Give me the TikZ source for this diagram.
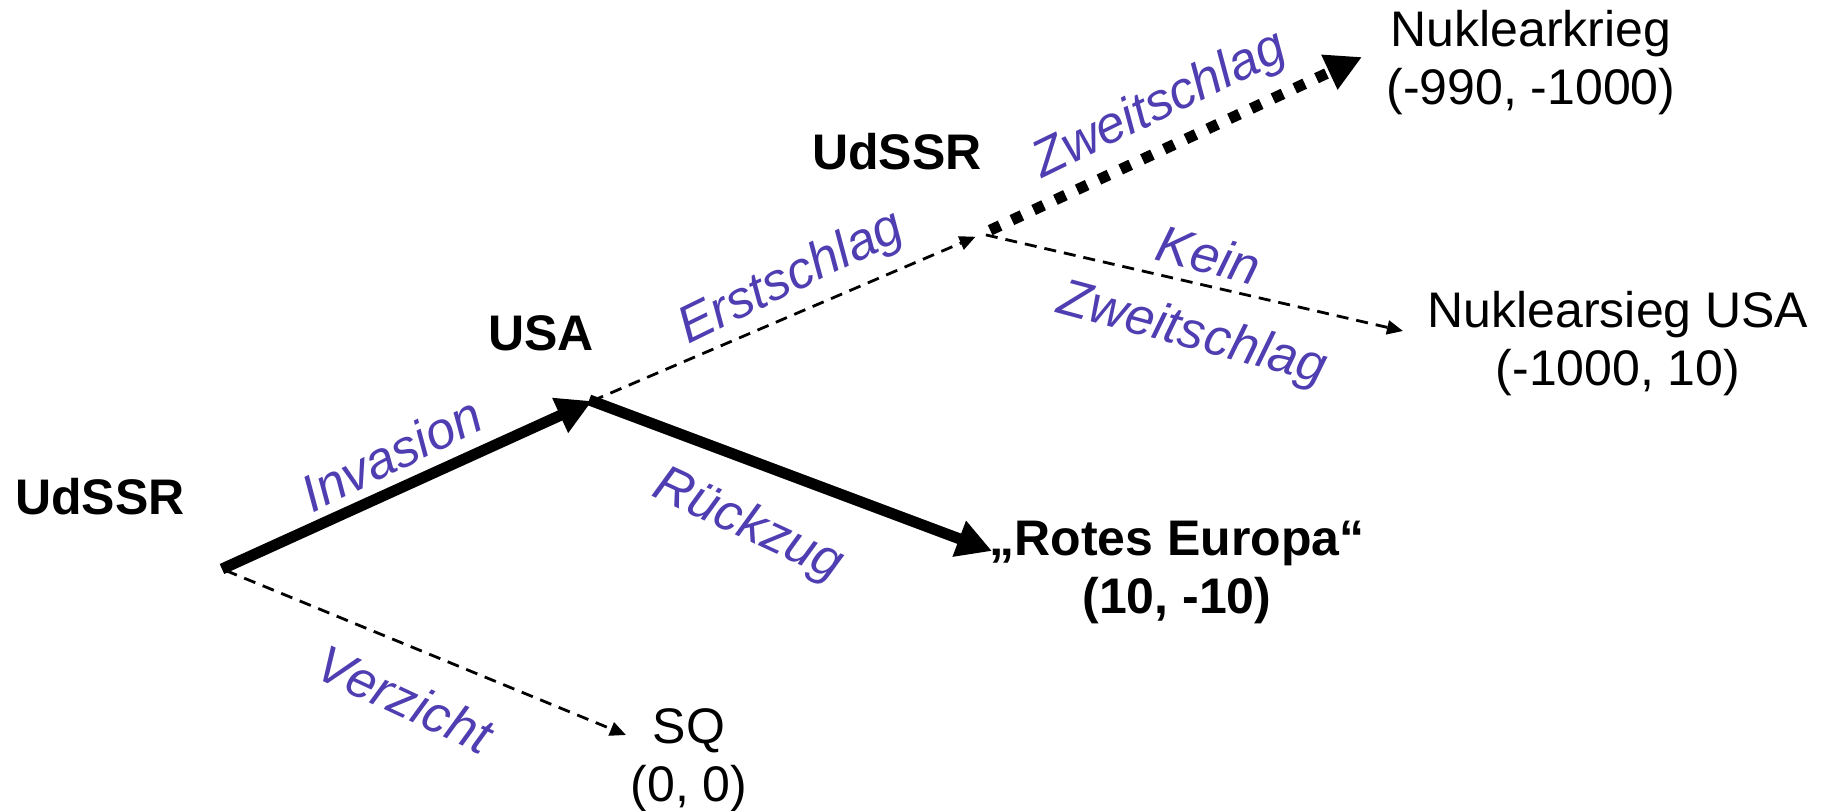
\documentclass[tikz,border=0pt]{standalone}
\usepackage{fontspec}
\setmainfont{Liberation Sans}
\usetikzlibrary{arrows.meta}
\definecolor{lbl}{RGB}{78,62,178}
\begin{document}
\begin{tikzpicture}[x=1pt,y=-1pt,
  player/.style={font=\fontsize{50}{56}\selectfont\bfseries, inner sep=0pt},
  outcome/.style={font=\fontsize{50}{58}\selectfont, align=center, inner sep=0pt},
  move/.style={font=\fontsize{52}{60}\selectfont\itshape, text=lbl, inner sep=0pt},
  strong/.style={line width=11pt, -{Triangle[length=35pt,width=36pt]}},
  weak/.style={line width=2.8pt, dash pattern=on 12pt off 8pt, -{Triangle[length=16pt,width=14pt]}},
  threat/.style={line width=11pt, dash pattern=on 11pt off 13pt, -{Triangle[length=36pt,width=36pt]}},
]
\useasboundingbox (0,0) rectangle (1832,811);

% decision points
\coordinate (root) at (222,569);
\coordinate (usa) at (592,401);
\coordinate (ud2) at (982,234);

% arrow ends in front of the outcomes
\coordinate (krieg-in) at (1362,57);
\coordinate (sieg-in) at (1403,331);
\coordinate (eu-in) at (992,551);
\coordinate (sq-in) at (626,735);

% players
\node[player] (p1) at (100,497) {UdSSR};
\node[player] (p2) at (541,333) {USA};
\node[player] (p3) at (897,152) {UdSSR};

% outcomes
\node[outcome] (krieg) at (1531,63) {Nuklearkrieg\\(-990, -1000)};
\node[outcome] (sieg) at (1618,344) {Nuklearsieg USA\\(-1000, 10)};
\node[outcome, font=\fontsize{50}{58}\selectfont\bfseries] (eu) at (1177,572) {„Rotes Europa“\\(10, -10)};
\node[outcome] (sq) at (689,760) {SQ\\(0, 0)};

% moves
\draw[strong] (root) -- (usa);
\draw[strong, shorten <=-3pt] (usa) -- (eu-in);
\draw[weak, shorten >=7pt] (usa) -- (ud2);
\draw[threat, shorten <=9pt] (ud2) -- (krieg-in);
\draw[weak, shorten <=4pt] (ud2) -- (sieg-in);
\draw[weak, shorten <=4pt] (root) -- (sq-in);

% move labels
\node[move, rotate=26] (m1) at (391,454) {Invasion};
\node[move, rotate=26] (m2) at (792,279) {Erstschlag};
\node[move, rotate=26] (m3) at (1160,106) {Zweitschlag};
\node[move, rotate=-15] (m4) at (1209,255) {Kein};
\node[move, rotate=-15] (m5) at (1192,335) {Zweitschlag};
\node[move, rotate=-25] (m6) at (748,526) {Rückzug};
\node[move, rotate=-25] (m7) at (405,699) {Verzicht};
\end{tikzpicture}
\end{document}
